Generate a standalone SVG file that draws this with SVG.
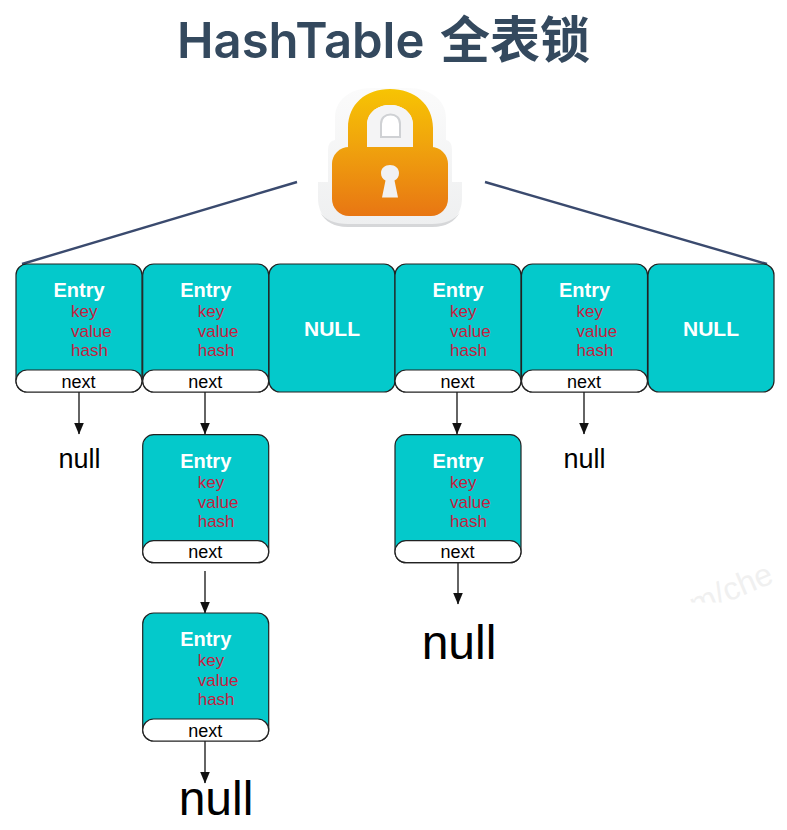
<svg xmlns="http://www.w3.org/2000/svg" width="787" height="830" viewBox="0 0 787 830">
<style>
text{font-family:"Liberation Sans",Arial,sans-serif}
.title{font-weight:600;fill:#34495e}
.tl{font-family:Inter,"Liberation Sans",sans-serif;font-size:49px}
.tc{font-family:"Noto Sans CJK SC",sans-serif;font-size:50px}
.box{fill:#04c9cb;stroke:#222;stroke-width:1.2}
.nx{fill:#fff;stroke:#222;stroke-width:1.2}
.en{font-size:20px;font-weight:700;fill:#fff;text-anchor:middle}
.f{font-size:17px;fill:#c5213f}
.n{font-size:18px;fill:#000;text-anchor:middle}
.nul{font-size:21px;font-weight:700;fill:#fff;text-anchor:middle}
.sm{font-size:27px;fill:#000;text-anchor:middle}
.lg{font-size:48px;fill:#000;text-anchor:middle}
.c{stroke:#111;stroke-width:1.3;fill:none;marker-end:url(#ah)}
.lk{stroke:#3a4a6e;stroke-width:2.4;fill:none}
</style>
<defs>
<marker id="ah" markerUnits="userSpaceOnUse" markerWidth="12" markerHeight="10" refX="11.500" refY="5" orient="auto"><path d="M0 0L12 5L0 10z" fill="#111"/></marker>
<linearGradient id="lg" gradientUnits="userSpaceOnUse" x1="0" y1="89" x2="0" y2="216"><stop offset="0" stop-color="#f7c403"/><stop offset="0.45" stop-color="#f0a30d"/><stop offset="1" stop-color="#e87613"/></linearGradient>
<linearGradient id="pl" x1="0" y1="0" x2="0" y2="1"><stop offset="0" stop-color="#fbfbfb"/><stop offset="1" stop-color="#eeeff0"/></linearGradient>
<clipPath id="wm"><rect x="640" y="550" width="147" height="52.500"/></clipPath>
<g id="entry">
<rect class="box" x="0" y="0" width="126" height="128" rx="11"/>
<path class="nx" d="M0 117A11 11 0 0 1 11 106H115A11 11 0 0 1 126 117A11 11 0 0 1 115 128H11A11 11 0 0 1 0 117Z"/>
<text class="en" x="63" y="33">Entry</text>
<text class="f" x="55" y="53">key</text>
<text class="f" x="55" y="73">value</text>
<text class="f" x="55" y="92">hash</text>
<text class="n" x="62.500" y="123.500">next</text>
</g>
</defs>
<rect width="787" height="830" fill="#fff"/>
<g clip-path="url(#wm)"><text transform="translate(695 616) rotate(-23)" font-size="32" fill="#f0f0f0">m/che</text></g>
<text class="title" x="177" y="58"><tspan class="tl">HashTable </tspan><tspan class="tc" x="440">全表锁</tspan></text>
<g id="lock">
<path d="M318 182H328V150Q328 141 335 140V118C335 100 350 88 372 88H408C430 88 446 100 446 118V140Q452 141 452 150V182H462V198C462 216 450 227 432 227H348C330 227 318 216 318 198Z" fill="url(#pl)"/>
<path d="M320 212C325 222 335 227 348 227H432C445 227 455 222 460 212C455 220 445 224 432 224H348C335 224 325 220 320 212Z" fill="#d6d7d9"/>
<path d="M348 150V128C348 104 366 89 390 89C414 89 433 104 433 128V150H413V125C413 113 403 105 390 105C377 105 367 113 367 125V150Z" fill="url(#lg)"/>
<rect x="332" y="147" width="116" height="69" rx="17" fill="url(#lg)"/>
<path d="M367 147V125C367 113 377 105 390 105C403 105 413 113 413 125V147Z" fill="#f4f4f5"/>
<path d="M381 137V124C381 118 385 114.500 390.500 114.500C396 114.500 400 118 400 124V137Z" fill="#fff" stroke="#cfd1d4" stroke-width="2"/>
<path d="M382 197.500L385.500 180.500C382.500 179 381 176.500 381 173C381 168 385 165 390 165C395 165 399 168 399 173C399 176.500 397.500 179 394.500 180.500L398 197.500Z" fill="#f1f1f2"/>
</g>
<g id="connectors">
<path class="lk" d="M297 182L22 264"/>
<path class="lk" d="M485 182L767 264"/>
<path class="c" d="M79 392V434"/>
<path class="c" d="M205 392V434"/>
<path class="c" d="M205 571V613"/>
<path class="c" d="M457 392V434"/>
<path class="c" d="M458 563V604"/>
<path class="c" d="M584 392V434"/>
<path class="c" d="M205 741V783"/>
</g>
<g id="e1"><use href="#entry" x="16" y="264"/></g>
<g id="e2"><use href="#entry" x="142.700" y="264"/></g>
<g id="n1"><rect class="box" x="269" y="264" width="126" height="128" rx="11"/><text class="nul" x="332" y="336">NULL</text></g>
<g id="e3"><use href="#entry" x="395" y="264"/></g>
<g id="e4"><use href="#entry" x="521.500" y="264"/></g>
<g id="n2"><rect class="box" x="648" y="264" width="126" height="128" rx="11"/><text class="nul" x="711" y="336">NULL</text></g>
<g id="e5"><use href="#entry" x="142.700" y="434.700"/></g>
<g id="e6"><use href="#entry" x="395" y="434.700"/></g>
<g id="e7"><use href="#entry" x="142.700" y="613"/></g>
<g id="null1"><text class="sm" x="79.500" y="468">null</text></g>
<g id="null2"><text class="sm" x="584.500" y="468">null</text></g>
<g id="null3"><text class="lg" x="459" y="659">null</text></g>
<g id="null4"><text class="lg" x="216" y="815">null</text></g>
</svg>
